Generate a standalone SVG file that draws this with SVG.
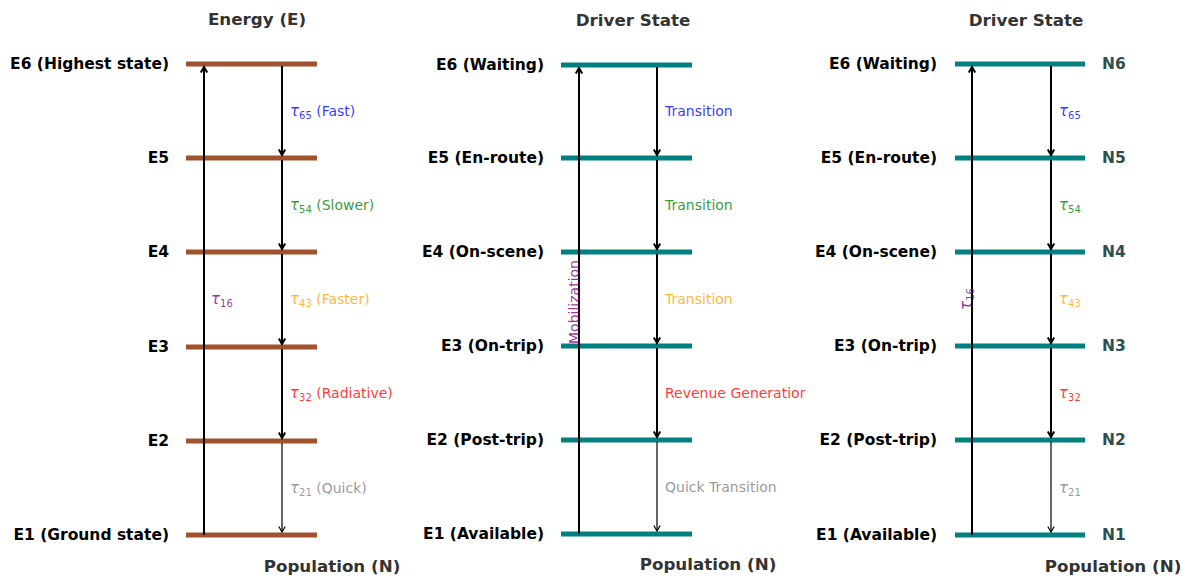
<svg xmlns="http://www.w3.org/2000/svg" width="1193" height="580" viewBox="0 0 1193 580">
<style>
.title{font-family:"DejaVu Sans",sans-serif;font-weight:bold;font-size:16.7px;fill:#333333;text-anchor:middle}
.lvl{font-family:"DejaVu Sans",sans-serif;font-weight:bold;font-size:15.5px;fill:#000;text-anchor:end}
.nl{font-family:"DejaVu Sans",sans-serif;font-weight:bold;font-size:15.5px;fill:#2f4f4f}
.tl{font-family:"DejaVu Sans",sans-serif;font-size:14px;fill-opacity:0.8}
.tau{font-style:italic;font-size:15px}
.sub{font-size:10px}
.bar1{stroke:#a0522d;stroke-width:5}
.bar2{stroke:#008080;stroke-width:5}
.arr{stroke:#000;stroke-width:2;fill:none;marker-end:url(#ah)}
.arrt{stroke:#000;stroke-width:1.2;fill:none;marker-end:url(#aht)}
</style>
<defs>
<marker id="ah" markerUnits="userSpaceOnUse" viewBox="-7 -5 8 10" refX="0" refY="0" markerWidth="8" markerHeight="10" orient="auto" overflow="visible">
<path d="M-5.5,-3.2 L0,0 L-5.5,3.2" fill="none" stroke="#000" stroke-width="2"/>
</marker>
<marker id="aht" markerUnits="userSpaceOnUse" viewBox="-7 -5 8 10" refX="0" refY="0" markerWidth="8" markerHeight="10" orient="auto" overflow="visible">
<path d="M-5.5,-3.2 L0,0 L-5.5,3.2" fill="none" stroke="#000" stroke-width="1.2"/>
</marker>
<clipPath id="clip2"><rect x="0" y="0" width="805" height="580"/></clipPath>
</defs>
<rect width="1193" height="580" fill="#fff"/>

<!-- Panel 1 -->
<g id="panel1">
<text class="title" x="257" y="25">Energy (E)</text>
<text class="title" x="332" y="572">Population (N)</text>
<g id="p1-E6"><line class="bar1" x1="186" y1="64" x2="317" y2="64"/><text class="lvl" x="169" y="69">E6 (Highest state)</text></g>
<g id="p1-E5"><line class="bar1" x1="186" y1="158" x2="317" y2="158"/><text class="lvl" x="169" y="163">E5</text></g>
<g id="p1-E4"><line class="bar1" x1="186" y1="252" x2="317" y2="252"/><text class="lvl" x="169" y="257">E4</text></g>
<g id="p1-E3"><line class="bar1" x1="186" y1="347" x2="317" y2="347"/><text class="lvl" x="169" y="352">E3</text></g>
<g id="p1-E2"><line class="bar1" x1="186" y1="441" x2="317" y2="441"/><text class="lvl" x="169" y="446">E2</text></g>
<g id="p1-E1"><line class="bar1" x1="186" y1="535" x2="317" y2="535"/><text class="lvl" x="169" y="540">E1 (Ground state)</text></g>
</g>

<!-- Panel 2 -->
<g id="panel2">
<text class="title" x="633" y="26">Driver State</text>
<text class="title" x="708" y="570">Population (N)</text>
<g id="p2-E6"><line class="bar2" x1="561" y1="65" x2="692" y2="65"/><text class="lvl" x="544" y="70">E6 (Waiting)</text></g>
<g id="p2-E5"><line class="bar2" x1="561" y1="158" x2="692" y2="158"/><text class="lvl" x="544" y="163">E5 (En-route)</text></g>
<g id="p2-E4"><line class="bar2" x1="561" y1="252" x2="692" y2="252"/><text class="lvl" x="544" y="257">E4 (On-scene)</text></g>
<g id="p2-E3"><line class="bar2" x1="561" y1="346" x2="692" y2="346"/><text class="lvl" x="544" y="351">E3 (On-trip)</text></g>
<g id="p2-E2"><line class="bar2" x1="561" y1="440" x2="692" y2="440"/><text class="lvl" x="544" y="445">E2 (Post-trip)</text></g>
<g id="p2-E1"><line class="bar2" x1="561" y1="534" x2="692" y2="534"/><text class="lvl" x="544" y="539">E1 (Available)</text></g>
</g>

<!-- Panel 3 -->
<g id="panel3">
<text class="title" x="1026" y="26">Driver State</text>
<text class="title" x="1113" y="572">Population (N)</text>
<g id="p3-E6"><line class="bar2" x1="955" y1="64" x2="1085" y2="64"/><text class="lvl" x="937" y="69">E6 (Waiting)</text><text class="nl" x="1102" y="69">N6</text></g>
<g id="p3-E5"><line class="bar2" x1="955" y1="158" x2="1085" y2="158"/><text class="lvl" x="937" y="163">E5 (En-route)</text><text class="nl" x="1102" y="163">N5</text></g>
<g id="p3-E4"><line class="bar2" x1="955" y1="252" x2="1085" y2="252"/><text class="lvl" x="937" y="257">E4 (On-scene)</text><text class="nl" x="1102" y="257">N4</text></g>
<g id="p3-E3"><line class="bar2" x1="955" y1="346" x2="1085" y2="346"/><text class="lvl" x="937" y="351">E3 (On-trip)</text><text class="nl" x="1102" y="351">N3</text></g>
<g id="p3-E2"><line class="bar2" x1="955" y1="440" x2="1085" y2="440"/><text class="lvl" x="937" y="445">E2 (Post-trip)</text><text class="nl" x="1102" y="445">N2</text></g>
<g id="p3-E1"><line class="bar2" x1="955" y1="535" x2="1085" y2="535"/><text class="lvl" x="937" y="540">E1 (Available)</text><text class="nl" x="1102" y="540">N1</text></g>
</g>

<!-- Connectors -->
<g id="connectors">
<line class="arr" x1="204" y1="535" x2="204" y2="67"/>
<line class="arr" x1="282" y1="66" x2="282" y2="155"/>
<line class="arr" x1="282" y1="160" x2="282" y2="249"/>
<line class="arr" x1="282" y1="254" x2="282" y2="344"/>
<line class="arr" x1="282" y1="349" x2="282" y2="438"/>
<line class="arrt" x1="282" y1="443" x2="282" y2="532"/>

<line class="arr" x1="579" y1="534" x2="579" y2="68"/>
<line class="arr" x1="657" y1="67" x2="657" y2="155"/>
<line class="arr" x1="657" y1="160" x2="657" y2="249"/>
<line class="arr" x1="657" y1="254" x2="657" y2="343"/>
<line class="arr" x1="657" y1="348" x2="657" y2="437"/>
<line class="arrt" x1="657" y1="442" x2="657" y2="531"/>

<line class="arr" x1="972" y1="535" x2="972" y2="67"/>
<line class="arr" x1="1051" y1="66" x2="1051" y2="155"/>
<line class="arr" x1="1051" y1="160" x2="1051" y2="249"/>
<line class="arr" x1="1051" y1="254" x2="1051" y2="343"/>
<line class="arr" x1="1051" y1="348" x2="1051" y2="437"/>
<line class="arrt" x1="1051" y1="442" x2="1051" y2="532"/>
</g>

<!-- Connector labels -->
<g id="labels1">
<text class="tl" x="290" y="116" fill="#0000ff"><tspan class="tau">τ</tspan><tspan class="sub" dy="3">65</tspan><tspan dy="-3"> (Fast)</tspan></text>
<text class="tl" x="290" y="210" fill="#008000"><tspan class="tau">τ</tspan><tspan class="sub" dy="3">54</tspan><tspan dy="-3"> (Slower)</tspan></text>
<text class="tl" x="290" y="304" fill="#ffa500"><tspan class="tau">τ</tspan><tspan class="sub" dy="3">43</tspan><tspan dy="-3"> (Faster)</tspan></text>
<text class="tl" x="290" y="398" fill="#ff0000"><tspan class="tau">τ</tspan><tspan class="sub" dy="3">32</tspan><tspan dy="-3"> (Radiative)</tspan></text>
<text class="tl" x="290" y="493" fill="#808080"><tspan class="tau">τ</tspan><tspan class="sub" dy="3">21</tspan><tspan dy="-3"> (Quick)</tspan></text>
<text class="tl" x="211" y="304" fill="#800080"><tspan class="tau">τ</tspan><tspan class="sub" dy="3">16</tspan></text>
</g>
<g id="labels2">
<text class="tl" x="665" y="116" fill="#0000ff">Transition</text>
<text class="tl" x="665" y="210" fill="#008000">Transition</text>
<text class="tl" x="665" y="304" fill="#ffa500">Transition</text>
<text class="tl" x="665" y="398" fill="#ff0000" clip-path="url(#clip2)">Revenue Generation</text>
<text class="tl" x="665" y="492" fill="#808080">Quick Transition</text>
<text class="tl" transform="translate(579,302) rotate(-90)" x="0" y="0" text-anchor="middle" fill="#800080">Mobilization</text>
</g>
<g id="labels3">
<text class="tl" x="1059" y="116" fill="#0000ff"><tspan class="tau">τ</tspan><tspan class="sub" dy="3">65</tspan></text>
<text class="tl" x="1059" y="210" fill="#008000"><tspan class="tau">τ</tspan><tspan class="sub" dy="3">54</tspan></text>
<text class="tl" x="1059" y="304" fill="#ffa500"><tspan class="tau">τ</tspan><tspan class="sub" dy="3">43</tspan></text>
<text class="tl" x="1059" y="398" fill="#ff0000"><tspan class="tau">τ</tspan><tspan class="sub" dy="3">32</tspan></text>
<text class="tl" x="1059" y="493" fill="#808080"><tspan class="tau">τ</tspan><tspan class="sub" dy="3">21</tspan></text>
<text class="tl" transform="translate(971,299) rotate(-90)" x="0" y="0" text-anchor="middle" fill="#800080"><tspan class="tau">τ</tspan><tspan class="sub" dy="3">16</tspan></text>
</g>
</svg>
